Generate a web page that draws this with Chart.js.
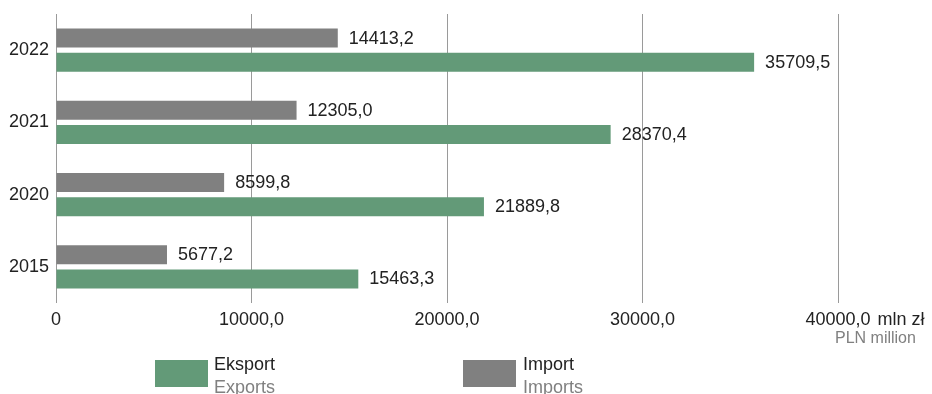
<!DOCTYPE html>
<html>
<head>
<meta charset="utf-8">
<script src="https://cdn.jsdelivr.net/npm/chart.js@4/dist/chart.umd.min.js"></script>
<style>
  body { margin: 0; background: #fff; font-family: "Liberation Sans", Arial, sans-serif; }
  #wrap { position: relative; width: 932px; height: 394px; overflow: hidden; }
  .sw { position: absolute; width: 53px; height: 27px; }
  .lg { position: absolute; font-size: 18px; line-height: 23px; color: #222; white-space: nowrap; }
  .lg span { color: #808080; }
</style>
</head>
<body>
<div id="wrap">
  <canvas id="c" width="932" height="394"></canvas>
  <div class="sw" style="left:155px; top:360px; background:#639a78;"></div>
  <div class="lg" style="left:214px; top:353px;">Eksport<br><span>Exports</span></div>
  <div class="sw" style="left:463px; top:360px; background:#808080;"></div>
  <div class="lg" style="left:523px; top:353px;">Import<br><span>Imports</span></div>
</div>
<script>
// data
const years = ['2022', '2021', '2020', '2015'];
const importVals = [14413.2, 12305.0, 8599.8, 5677.2];
const exportVals = [35709.5, 28370.4, 21889.8, 15463.3];
const xTicks = [0, 10000, 20000, 30000, 40000];

const green = '#639a78';
const grey = '#808080';
const textCol = '#222';
const font = { family: "'Liberation Sans', Arial, sans-serif", size: 18 };

const fmt = v => v.toFixed(1).replace('.', ',');

// value labels next to each bar
const valueLabels = {
  id: 'valueLabels',
  afterDatasetsDraw(chart) {
    const ctx = chart.ctx;
    ctx.save();
    ctx.font = '18px ' + font.family;
    ctx.fillStyle = textCol;
    ctx.textBaseline = 'middle';
    ctx.textAlign = 'left';
    chart.data.datasets.forEach((ds, i) => {
      chart.getDatasetMeta(i).data.forEach((bar, j) => {
        ctx.fillText(fmt(ds.data[j]), bar.x + 11, bar.y + 0.5);
      });
    });
    ctx.restore();
  }
};

// unit after the last tick
const unitLabel = {
  id: 'unitLabel',
  afterDraw(chart) {
    const ctx = chart.ctx;
    const x = chart.scales.x;
    const px = x.getPixelForValue(40000);
    ctx.save();
    ctx.font = '18px ' + font.family;
    const w = ctx.measureText(fmt(40000)).width;
    ctx.textBaseline = 'alphabetic';
    ctx.textAlign = 'left';
    ctx.fillStyle = textCol;
    ctx.fillText('mln zł', px + w / 2 + 7, 325);
    ctx.font = '16px ' + font.family;
    ctx.fillStyle = grey;
    ctx.fillText('PLN million', px - 3, 343);
    ctx.restore();
  }
};

new Chart(document.getElementById('c'), {
  type: 'bar',
  data: {
    labels: years,
    datasets: [
      { label: 'Import', data: importVals, backgroundColor: grey },
      { label: 'Eksport', data: exportVals, backgroundColor: green }
    ]
  },
  options: {
    indexAxis: 'y',
    responsive: false,
    animation: false,
    categoryPercentage: 0.665,
    barPercentage: 0.79,
    layout: { padding: { top: 14, right: 94, bottom: 61, left: 0 } },
    plugins: { legend: { display: false }, tooltip: { enabled: false } },
    scales: {
      x: {
        min: 0,
        max: 40000,
        afterBuildTicks: s => { s.ticks = xTicks.map(v => ({ value: v })); },
        afterFit: s => { s.height = 30; },
        grid: { color: '#9a9a9a', lineWidth: 1, drawTicks: false },
        border: { display: false },
        ticks: {
          padding: 6,
          color: textCol,
          font: font,
          maxRotation: 0,
          callback: v => v === 0 ? '0' : fmt(v)
        }
      },
      y: {
        afterFit: s => { s.width = 56; s.paddingTop = 0; s.paddingBottom = 0; },
        grid: { display: false, drawTicks: false },
        border: { display: false },
        ticks: { padding: 7, color: textCol, font: font }
      }
    }
  },
  plugins: [valueLabels, unitLabel]
});
</script>
</body>
</html>
